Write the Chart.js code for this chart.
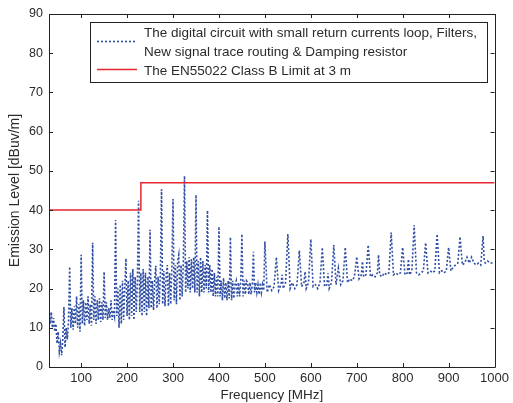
<!DOCTYPE html>
<html>
<head>
<meta charset="utf-8">
<script src="https://cdn.jsdelivr.net/npm/chart.js@4/dist/chart.umd.min.js"></script>
<style>
html,body{margin:0;padding:0;background:#fff;}
#wrap{width:513px;height:403px;}
</style>
</head>
<body>
<div id="wrap"><canvas id="c" width="513" height="403"></canvas></div>
<script>
// ---- Data ----
const freqMHz = [
 30,32.5,35,37.5,40,42.5,45,47.5,50,52.5,55,57.5,60,62.5,65,67.5,70,72.5,75,77.5,
 80,82.5,85,87.5,90,92.5,95,97.5,100,102.5,105,107.5,110,112.5,115,117.5,120,122.5,125,127.5,
 130,132.5,135,137.5,140,142.5,145,147.5,150,152.5,155,157.5,160,162.5,165,167.5,170,172.5,175,177.5,
 180,182.5,185,187.5,190,192.5,195,197.5,200,202.5,205,207.5,210,212.5,215,217.5,220,222.5,225,227.5,
 230,232.5,235,237.5,240,242.5,245,247.5,250,252.5,255,257.5,260,262.5,265,267.5,270,272.5,275,277.5,
 280,282.5,285,287.5,290,292.5,295,297.5,300,302.5,305,307.5,310,312.5,315,317.5,320,322.5,325,327.5,
 330,332.5,335,337.5,340,342.5,345,347.5,350,352.5,355,357.5,360,362.5,365,367.5,370,372.5,375,377.5,
 380,382.5,385,387.5,390,392.5,395,397.5,400,402.5,405,407.5,410,412.5,415,417.5,420,422.5,425,427.5,
 430,432.5,435,437.5,440,442.5,445,447.5,450,452.5,455,457.5,460,462.5,465,467.5,470,472.5,475,477.5,
 480,482.5,485,487.5,490,492.5,495,497.5,500,
 505,510,515,520,525,530,535,537.5,540,545,550,555,560,565,570,575,580,585,587.5,590,595,
 600,605,610,615,620,625,630,635,637.5,640,645,650,655,660,665,670,675,680,685,690,695,
 700,705,710,712.5,715,720,725,730,735,740,745,747.5,750,755,760,765,770,775,780,785,790,795,
 800,805,810,812.5,815,820,825,830,835,840,845,850,855,860,865,870,875,880,885,890,895,
 900,905,910,915,920,925,930,935,940,945,950,955,960,965,970,975,977.5,980,985,990,995,1000
];
const emissionDb = [
 15,11,14,10,12.5,9,11,6,9,4,6,3,7,15.3,5,10,7,12,25.6,10,
 15,9.5,15.5,11,18,10,16,9,28.6,11,17,10.5,16.5,12,18,11,16,10.5,31.7,12,
 18,11,17,12,17.5,11.5,16.5,12,24.3,12.5,16.5,12,15,12.5,17,12,14.5,13,37.5,13,
 20,10,21,11,22,12,20,27.7,13,22,12,24,13,25,12,23,14,22,42.4,14,
 24,13,25,14,24,13,23,15,35,15,22,14.5,22,25.8,15,23,16,24,45.3,16,
 24.5,15.5,23,26,15.5,24,16,25,42.8,17,26,16,27,28.6,17,26,18,27,48.7,19,
 27,20,28,19,27.5,20,28,19,43.9,19,27,18,28,19,27,19,26,20,39.9,19,
 26,19,25,18,24,18,23,18,35.8,18,22,17,22.7,17.5,21.5,17,22,17.5,33.1,17,
 22,17.5,21,22,18,21.5,18,22,33.9,18,22,18.5,22,21.5,18.5,21.5,18.5,21,29.4,19,
 21.5,19,21,18.5,21.5,19,21,19.5,32,
 19,21,19.5,20.5,28,19.5,21,23.5,20,21.5,33.9,20,21.5,20,21,29.7,20.5,21.5,24.3,20,21.5,
 32.6,20.5,21,20,21.5,30.5,20.5,21,23.9,20,21.5,31.1,21,25.2,21,22,30.5,21.5,22.5,22,23,
 28.1,22.5,23.5,26.9,23,23.5,31.1,23,23.5,23,24,28.6,23.5,23,24,23.5,24,34.3,23.5,24,23.5,24,
 30.5,23.5,24,27.5,23.5,24.5,36.2,24,23.5,24,24.5,31.7,24,24.5,24,24.5,33.9,24,24.5,24,24.5,
 30.5,24.5,25.5,26,26.5,33.2,26,26.5,28,26.5,28,26.5,26,26.5,26,33.4,27,26.5,27,26.5,26.5,26.5
];
const limitFreq = [30, 230, 230, 1000];
const limitDb = [40, 40, 47, 47];
const xTicks = [100,200,300,400,500,600,700,800,900,1000];
const yTicks = [0,10,20,30,40,50,60,70,80,90];
const legendLabels = [
  ["The digital circuit with small return currents loop, Filters,", "New signal trace routing & Damping resistor"],
  ["The EN55022 Class B Limit at 3 m"]
];
const xTitle = "Frequency [MHz]";
const yTitle = "Emission Level [dBuv/m]";

const BLUE = "#2f4ea3";
const RED = "#e8262e";
const FONT = "'Liberation Sans', Arial, sans-serif";
const TXT = "#2b2b2b";

const boxTicks = {
  id: 'boxTicks',
  afterDatasetsDraw(chart) {
    const {ctx, chartArea: a, scales} = chart;
    ctx.save();
    ctx.strokeStyle = '#222';
    ctx.lineWidth = 1;
    ctx.beginPath();
    ctx.rect(Math.round(a.left)+0.5, Math.round(a.top)+0.5, Math.round(a.right-a.left), Math.round(a.bottom-a.top));
    ctx.stroke();
    const L = 4;
    ctx.beginPath();
    xTicks.forEach(v => {
      const x = Math.round(scales.x.getPixelForValue(v)) + 0.5;
      ctx.moveTo(x, a.bottom); ctx.lineTo(x, a.bottom - L);
      ctx.moveTo(x, a.top); ctx.lineTo(x, a.top + L);
    });
    yTicks.forEach(v => {
      const y = Math.round(scales.y.getPixelForValue(v)) + 0.5;
      ctx.moveTo(a.left, y); ctx.lineTo(a.left + L, y);
      ctx.moveTo(a.right, y); ctx.lineTo(a.right - L, y);
    });
    ctx.stroke();
    ctx.restore();
  }
};

const customLegend = {
  id: 'customLegend',
  afterDraw(chart) {
    const ctx = chart.ctx;
    const bx = 90.5, by = 22.5, bw = 397, bh = 60;
    ctx.save();
    ctx.fillStyle = '#fff';
    ctx.fillRect(bx, by, bw, bh);
    ctx.strokeStyle = '#222';
    ctx.lineWidth = 1;
    ctx.strokeRect(bx, by, bw, bh);
    ctx.strokeStyle = BLUE;
    ctx.lineWidth = 1.6;
    ctx.setLineDash([2, 2]);
    ctx.beginPath(); ctx.moveTo(97, 41.5); ctx.lineTo(137, 41.5); ctx.stroke();
    ctx.setLineDash([]);
    ctx.strokeStyle = RED;
    ctx.lineWidth = 1.5;
    ctx.beginPath(); ctx.moveTo(97, 69.5); ctx.lineTo(137, 69.5); ctx.stroke();
    ctx.fillStyle = TXT;
    ctx.font = "13.5px " + FONT;
    ctx.textBaseline = 'middle';
    ctx.textAlign = 'left';
    ctx.fillText(legendLabels[0][0], 144, 33);
    ctx.fillText(legendLabels[0][1], 144, 52);
    ctx.fillText(legendLabels[1][0], 144, 71);
    ctx.restore();
  }
};

new Chart(document.getElementById('c'), {
  type: 'line',
  data: {
    datasets: [
      {
        label: legendLabels[1][0],
        data: limitFreq.map((f, i) => ({x: f, y: limitDb[i]})),
        borderColor: RED,
        borderWidth: 1.5,
        pointRadius: 0,
        tension: 0,
        order: 0
      },
      {
        label: legendLabels[0].join(' '),
        data: freqMHz.map((f, i) => ({x: f, y: emissionDb[i]})),
        borderColor: BLUE,
        borderWidth: 1.6,
        borderDash: [2, 2],
        pointRadius: 0,
        tension: 0,
        order: 1
      }
    ]
  },
  options: {
    responsive: false,
    animation: false,
    devicePixelRatio: 1,
    layout: {padding: {left: 0, right: 16, top: 14, bottom: 0}},
    plugins: {legend: {display: false}, tooltip: {enabled: false}},
    scales: {
      x: {
        type: 'linear', min: 30, max: 1000,
        afterBuildTicks: s => { s.ticks = xTicks.map(v => ({value: v})); },
        afterFit: s => { s.height = 36; },
        grid: {display: false, drawTicks: false},
        border: {display: false},
        ticks: {color: TXT, font: {family: FONT, size: 13}, padding: 4, maxRotation: 0, autoSkip: false,
                callback: v => String(v)},
        title: {display: true, text: xTitle, color: TXT, font: {family: FONT, size: 13.5}, padding: {top: 0, bottom: 0}}
      },
      y: {
        type: 'linear', min: 0, max: 90,
        afterBuildTicks: s => { s.ticks = yTicks.map(v => ({value: v})); },
        afterFit: s => { s.width = 49; },
        grid: {display: false, drawTicks: false},
        border: {display: false},
        ticks: {color: TXT, font: {family: FONT, size: 12.5}, padding: 6, autoSkip: false,
                callback: v => String(v)},
        title: {display: true, text: yTitle, color: TXT, font: {family: FONT, size: 14}, padding: {top: 7, bottom: 0}}
      }
    }
  },
  plugins: [boxTicks, customLegend]
});
</script>
</body>
</html>
